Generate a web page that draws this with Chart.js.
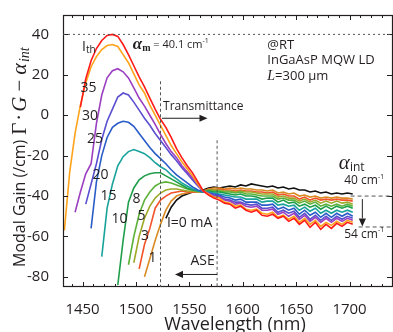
<!DOCTYPE html>
<html>
<head>
<meta charset="utf-8">
<script src="https://cdn.jsdelivr.net/npm/chart.js@4.4.0/dist/chart.umd.min.js"></script>
<style>
    html, body { margin: 0; padding: 0; background: #fff; }
    #gainChart { display: block; }
</style>
</head>
<body>
<canvas id="gainChart" width="393" height="332"></canvas>
<script>
// Wavelength grid (nm) shared by every spectrum
const wavelength = [1433, 1438, 1443, 1448, 1453, 1458, 1463, 1468, 1473, 1478,
    1483, 1488, 1493, 1498, 1503, 1508, 1513, 1518, 1523, 1528,
    1533, 1538, 1543, 1548, 1553, 1558, 1563, 1568, 1573, 1578,
    1583, 1588, 1593, 1598, 1603, 1608, 1613, 1618, 1623, 1628,
    1633, 1638, 1643, 1648, 1653, 1658, 1663, 1668, 1673, 1678,
    1683, 1688, 1693, 1698, 1703];

const xTickLabels = [1450, 1500, 1550, 1600, 1650, 1700];
const yTickLabels = [-80, -60, -40, -20, 0, 20, 40];
const currentLabels = ['Ith', '35', '30', '25', '20', '15', '10', '8', '5', '3', '1', '0'];

// Modal gain (/cm) for each injection current
const gainIth = [null, null, null, 4, 18, 27, 33, 37, 39.5, 40,
    39, 35, 30, 24.5, 19, 14, 8.5, 3, -2, -6,
    -11, -16.5, -21, -25, -28.5, -33, -37.5, -39.5, -41, -42,
    -43.5, -44, -46, -45, -47, -48, -47, -49.5, -50, -49,
    -51, -50, -52.5, -51, -54, -52, -55.5, -53, -56.5, -54,
    -56, -53.5, -55, -53, -54];
const gain35 = [-57, -28, -9, 5, 16, 24, 29, 32.5, 34.5, 35,
    34, 30, 26, 20.5, 15, 11, 5, 0, -5, -10,
    -15, -19, -23, -26.5, -30, -34, -37.5, -39, -40.5, -41,
    -43, -43.5, -45, -44.5, -46.5, -47, -46.5, -48.5, -49, -48,
    -50.5, -49.5, -51.5, -50, -53, -51, -54, -52, -55, -53,
    -54.5, -52.5, -54, -52, -53];
const gain30 = [null, null, -48, -38, -29, -24, -4, 10, 18.5, 22,
    23, 21.5, 18.5, 13.5, 8.5, 4.5, 0, -4.5, -9.5, -14,
    -18, -21, -25, -28, -31, -34.5, -37.5, -39, -40, -40.5,
    -42, -42.5, -44, -43.5, -45, -45.5, -45, -47, -47, -46.5,
    -49, -48, -50, -48.5, -51.5, -49.5, -52.5, -50.5, -53, -51,
    -53, -51, -52.5, -51, -52];
const gain25 = [null, null, null, null, -44, -34, -24, -12, -3, 3,
    9, 11, 10, 6.5, 2.5, -1.5, -5, -9, -12.5, -16,
    -19.5, -22.5, -26, -29, -32, -35, -37.5, -38.5, -39.5, -40,
    -41.5, -42, -43, -43, -44, -44.5, -44, -46, -46, -45.5,
    -48, -47, -48.5, -47.5, -50.5, -48.5, -51.5, -49.5, -52, -50,
    -52, -50, -51.5, -50, -51];
const gain20 = [null, null, null, null, null, -56, -33, -20, -11, -6,
    -4, -3, -3.5, -5.5, -9, -12.5, -16, -19, -21.5, -24,
    -27, -29.5, -31.5, -33.5, -35.5, -37, -38, -38.5, -39, -39.5,
    -40.5, -41, -42, -41.5, -43, -43, -43, -44.5, -44.5, -44,
    -46.5, -45.5, -47, -46, -49, -47, -49.5, -48, -50.5, -48.5,
    -50.5, -48.5, -50, -48.5, -50];
const gain15 = [null, null, null, null, null, null, null, -70, -46, -34,
    -25, -20.5, -18, -17, -18, -19, -21, -23.5, -25.5, -27,
    -29.5, -31.5, -33.5, -35, -36.5, -37.5, -38, -38, -38.5, -39,
    -39.5, -40, -40.5, -40.5, -41.5, -41.5, -41.5, -43, -42.5, -42.5,
    -44.5, -44, -45, -44.5, -47, -45.5, -47.5, -46, -48.5, -47,
    -48.5, -47, -48, -47, -48];
const gain10 = [null, null, null, null, null, null, null, null, null, null,
    -84, -62, -43, -36, -32, -30, -29, -28.5, -28.5, -30,
    -31.5, -33, -34.5, -36, -37, -37.5, -38, -37.5, -38, -38,
    -38.5, -39, -39.5, -39, -40, -40, -40.5, -41.5, -41, -41,
    -43, -42, -43.5, -43, -45, -44, -45.5, -44.5, -46.5, -45,
    -46.5, -45, -46, -45, -46];
const gain8 = [null, null, null, null, null, null, null, null, null, null,
    null, null, -74, -60, -49, -42, -38, -35, -33.5, -33,
    -33.5, -34.5, -35.5, -36.5, -37, -37.5, -38, -37, -37.5, -37.5,
    -38, -38, -38.5, -38, -39, -39, -39.5, -40, -40, -40,
    -41.5, -41, -42, -42, -43.5, -42.5, -44, -43, -45, -44,
    -45, -44, -45, -44, -45];
const gain5 = [null, null, null, null, null, null, null, null, null, null,
    null, null, null, -73, -60, -51, -45, -41, -38.5, -37,
    -36.5, -36.5, -37, -37.5, -37.5, -38, -38, -37, -37, -37,
    -37.5, -37.5, -38, -37.5, -38, -38, -38.5, -39, -39, -39,
    -40.5, -40, -41, -41, -42.5, -41.5, -43, -42, -43.5, -42.5,
    -43.5, -42.5, -43.5, -43, -44];
const gain3 = [null, null, null, null, null, null, null, null, null, null,
    null, null, null, null, -76, -64, -56, -46, -42, -40,
    -38.5, -38, -37.5, -38, -38, -38, -38, -36.5, -37, -36.5,
    -37, -37, -37.5, -37, -37.5, -37.5, -38, -38, -38.5, -38,
    -39.5, -39, -40, -40, -41.5, -40.5, -42, -41, -42, -41.5,
    -42, -41.5, -42, -42, -42.5];
const gain1 = [null, null, null, null, null, null, null, null, null, null,
    null, null, null, null, null, -80, -71, -62, -54, -47,
    -42.5, -40, -39, -38.5, -38, -38, -37.5, -36.5, -36, -36,
    -36.5, -36, -36.5, -36, -36.5, -36.5, -37, -37, -37.5, -37,
    -38.5, -38, -39, -38.5, -40, -39.5, -40.5, -40, -41, -40.5,
    -41, -40.5, -41, -41, -41.5];
const gain0 = [null, null, null, null, null, null, null, null, null, null,
    null, null, null, null, null, null, null, null, null, -51,
    -45.5, -42, -40, -39, -38, -37.5, -37, -36, -35.5, -36,
    -35.5, -35, -35.5, -34.5, -35, -34, -34.5, -35, -35.5, -35,
    -36, -35.5, -36.5, -36, -37, -37, -38, -37.5, -38.5, -38,
    -39, -38.5, -39, -38.5, -39];

const allGains = [gainIth, gain35, gain30, gain25, gain20, gain15, gain10, gain8, gain5, gain3, gain1, gain0];

const curveColors = ['#ff1a1a', '#ffa31a', '#9b3fc0', '#5a4fd0', '#2a5cc8', '#17a39c',
    '#1f9e4a', '#5cb13a', '#9ea92a', '#f2532a', '#d98a22', '#111111'];

// where each current tag sits (nm, /cm)
const tagPos = [null, [1455.6, 13.4], [1457, -0.2], [1461.7, -12], [1466.9, -29.5], [1474.3, -40.2],
    [1484.6, -51.5], [1500.6, -41.7], [1505.2, -50], [1508.5, -59.8], [1515.5, -70.5], null];

const ink = '#231f20';
const sans = '"Open Sans", sans-serif';
const serif = '"Liberation Serif", serif';

// draw pieces of text one after another on a shared middle line
function drawRuns(ctx, x, y, runs) {
    ctx.textAlign = 'left';
    ctx.textBaseline = 'middle';
    runs.forEach(r => {
        ctx.font = r.font;
        ctx.fillText(r.t, x + (r.dx || 0), y + (r.dy || 0));
        x += ctx.measureText(r.t).width + (r.dx || 0);
    });
    return x;
}

function arrowHead(ctx, x, y, dir, size) {
    ctx.beginPath();
    if (dir === 'right') {
        ctx.moveTo(x, y); ctx.lineTo(x - size, y - size * 0.45); ctx.lineTo(x - size, y + size * 0.45);
    } else if (dir === 'left') {
        ctx.moveTo(x, y); ctx.lineTo(x + size, y - size * 0.45); ctx.lineTo(x + size, y + size * 0.45);
    } else {
        ctx.moveTo(x, y); ctx.lineTo(x - size * 0.45, y - size); ctx.lineTo(x + size * 0.45, y - size);
    }
    ctx.closePath();
    ctx.fill();
}

const decorPlugin = {
    id: 'decor',
    afterDatasetsDraw(chart) {
        const { ctx, chartArea: a, scales: { x, y } } = chart;
        const px = v => x.getPixelForValue(v);
        const py = v => y.getPixelForValue(v);
        ctx.save();
        ctx.strokeStyle = ink;
        ctx.fillStyle = ink;

        // frame
        ctx.lineWidth = 1.2;
        ctx.strokeRect(a.left + 0.5, a.top + 0.5, a.right - a.left - 1, a.bottom - a.top - 1);

        // inward ticks
        ctx.lineWidth = 1;
        ctx.beginPath();
        for (let w = 1440; w <= 1740; w += 10) {
            const len = w % 50 === 0 ? 5 : 3;
            const xp = Math.round(px(w)) + 0.5;
            ctx.moveTo(xp, a.bottom); ctx.lineTo(xp, a.bottom - len);
            ctx.moveTo(xp, a.top); ctx.lineTo(xp, a.top + len);
        }
        yTickLabels.forEach(v => {
            const yp = Math.round(py(v)) + 0.5;
            ctx.moveTo(a.left, yp); ctx.lineTo(a.left + 5, yp);
            ctx.moveTo(a.right, yp); ctx.lineTo(a.right - 6, yp);
        });
        ctx.stroke();

        // alpha_m level
        ctx.strokeStyle = '#555';
        ctx.setLineDash([2, 3]);
        ctx.beginPath();
        ctx.moveTo(a.left, py(40)); ctx.lineTo(a.right, py(40));
        ctx.stroke();

        // transmittance / ASE boundaries
        ctx.setLineDash([3, 2.5]);
        ctx.beginPath();
        ctx.moveTo(px(1523), py(16.8)); ctx.lineTo(px(1523), a.bottom);
        ctx.moveTo(px(1576), py(-12.4)); ctx.lineTo(px(1576), a.bottom);
        ctx.stroke();

        // alpha_int levels
        ctx.setLineDash([4, 3]);
        ctx.beginPath();
        ctx.moveTo(px(1701), py(-40)); ctx.lineTo(a.right, py(-40));
        ctx.moveTo(px(1708.5), py(-55.3)); ctx.lineTo(a.right, py(-55.3));
        ctx.stroke();
        ctx.setLineDash([]);

        // arrows
        ctx.strokeStyle = ink;
        ctx.lineWidth = 1;
        ctx.beginPath();
        ctx.moveTo(px(1524.4), py(-1.5)); ctx.lineTo(px(1563), py(-1.5));
        ctx.moveTo(px(1576), py(-78.8)); ctx.lineTo(px(1541), py(-78.8));
        ctx.moveTo(px(1712), py(-41.5)); ctx.lineTo(px(1712), py(-51));
        ctx.stroke();
        arrowHead(ctx, px(1567), py(-1.5), 'right', 8);
        arrowHead(ctx, px(1536.6), py(-78.8), 'left', 8);
        arrowHead(ctx, px(1712), py(-55), 'down', 8);

        // annotation texts
        ctx.fillStyle = ink;
        ctx.font = '12px ' + sans;
        ctx.textBaseline = 'middle';
        ctx.textAlign = 'left';
        ctx.fillText('Transmittance', px(1525.4), py(4.1));
        ctx.font = '14px ' + sans;
        ctx.textAlign = 'center';
        ctx.fillText('ASE', px(1562.4), py(-72));

        drawRuns(ctx, px(1497), py(35), [
            { t: 'α', font: 'italic bold 17px ' + serif },
            { t: 'm', font: 'bold 10px ' + serif, dy: 4 },
            { t: ' = 40.1 cm', font: '11px ' + sans },
            { t: '-1', font: '7px ' + sans, dy: -4 }
        ]);

        ctx.font = '13px ' + sans;
        ctx.textAlign = 'left';
        ctx.fillText('@RT', px(1623), py(34.4));
        ctx.fillText('InGaAsP MQW LD', px(1623), py(27));
        drawRuns(ctx, px(1623), py(19.5), [
            { t: 'L', font: 'italic 14px ' + serif },
            { t: '=300 μm', font: '13px ' + sans }
        ]);

        drawRuns(ctx, px(1690), py(-24), [
            { t: 'α', font: 'italic 21px ' + serif },
            { t: 'int', font: '12px ' + sans, dy: 4 }
        ]);
        drawRuns(ctx, px(1695), py(-32.3), [
            { t: '40 cm', font: '12px ' + sans },
            { t: '-1', font: '7px ' + sans, dy: -4 }
        ]);
        drawRuns(ctx, px(1695), py(-59), [
            { t: '54 cm', font: '12px ' + sans },
            { t: '-1', font: '7px ' + sans, dy: -4 }
        ]);

        // current tags
        ctx.font = '14px ' + sans;
        ctx.textAlign = 'center';
        tagPos.forEach((p, i) => {
            if (p) ctx.fillText(currentLabels[i], px(p[0]), py(p[1]));
        });
        drawRuns(ctx, px(1449.5), py(33.9), [
            { t: 'I', font: '14px ' + sans },
            { t: 'th', font: '10px ' + sans, dy: 3 }
        ]);
        ctx.font = '14px ' + sans;
        ctx.textAlign = 'left';
        ctx.fillText('I=0 mA', px(1529), py(-53.4));

        // axis titles
        ctx.font = '18px ' + sans;
        ctx.textAlign = 'center';
        ctx.fillText('Wavelength (nm)', 235, 325);

        ctx.translate(20, 267);
        ctx.rotate(-Math.PI / 2);
        let t = drawRuns(ctx, 0, 0, [{ t: 'Modal Gain (/cm)', font: '16px ' + sans }]);
        drawRuns(ctx, t + 5, 0, [
            { t: 'Γ', font: '21px ' + serif },
            { t: '·', font: '21px ' + serif, dx: 2 },
            { t: 'G', font: 'italic 21px ' + serif, dx: 2 },
            { t: '−', font: '21px ' + serif, dx: 5 },
            { t: 'α', font: 'italic 22px ' + serif, dx: 5 },
            { t: 'int', font: 'italic 14px ' + serif, dx: 1, dy: 5 }
        ]);
        ctx.restore();
    }
};

document.addEventListener("DOMContentLoaded", function () {
    const canvas = document.getElementById("gainChart");

    const datasets = allGains.map((g, i) => ({
        label: currentLabels[i],
        data: wavelength.map((w, k) => ({ x: w, y: g[k] })),
        borderColor: curveColors[i],
        borderWidth: 1.6,
        pointRadius: 0,
        tension: 0,
        spanGaps: false
    }));

    new Chart(canvas, {
        type: 'line',
        data: { datasets: datasets },
        options: {
            responsive: false,
            animation: false,
            layout: { padding: { top: 11, right: 0, bottom: 0, left: 0 } },
            plugins: {
                legend: { display: false },
                tooltip: { enabled: false }
            },
            scales: {
                x: {
                    type: 'linear',
                    min: 1431.7,
                    max: 1740.7,
                    grid: { display: false },
                    border: { display: false },
                    afterBuildTicks: s => { s.ticks = xTickLabels.map(v => ({ value: v })); },
                    afterFit: s => { s.height = 45; },
                    ticks: {
                        color: ink,
                        font: { family: 'Open Sans', size: 15 },
                        padding: 6,
                        maxRotation: 0,
                        autoSkip: false,
                        callback: v => String(v)
                    }
                },
                y: {
                    min: -85,
                    max: 49.6,
                    grid: { display: false },
                    border: { display: false },
                    afterBuildTicks: s => { s.ticks = yTickLabels.map(v => ({ value: v })); },
                    afterFit: s => { s.width = 63; },
                    ticks: {
                        color: ink,
                        font: { family: 'Open Sans', size: 15 },
                        padding: 6,
                        callback: v => String(v)
                    }
                }
            }
        },
        plugins: [decorPlugin]
    });
});
</script>
</body>
</html>
